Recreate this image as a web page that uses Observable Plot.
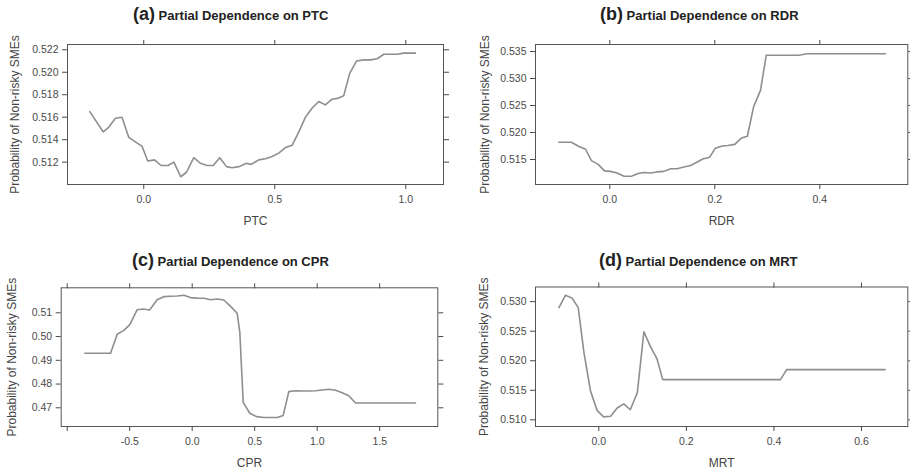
<!DOCTYPE html>
<html>
<head>
<meta charset="utf-8">
<script src="https://cdn.jsdelivr.net/npm/d3@7"></script>
<script src="https://cdn.jsdelivr.net/npm/@observablehq/plot@0.6"></script>
<style>
  html, body { margin: 0; padding: 0; background: #fff; }
  #wrap { position: relative; width: 910px; height: 470px; overflow: hidden; background: #fff; font-family: "Liberation Sans", Arial, sans-serif; }
  .panel { position: absolute; }
  .title { position: absolute; white-space: nowrap; font-weight: bold; font-size: 13px; line-height: 18px; color: #222; }
  .title .tag { font-size: 18px; }
</style>
</head>
<body>
<div id="wrap"></div>
<script>
// ---- Data ----
const ptcX = [-0.206,-0.155,-0.134,-0.108,-0.083,-0.057,-0.032,-0.006,0.015,0.041,0.066,0.092,0.115,0.141,0.163,0.191,0.216,0.242,0.265,0.290,0.316,0.337,0.364,0.392,0.410,0.439,0.464,0.490,0.515,0.541,0.566,0.592,0.617,0.642,0.668,0.693,0.719,0.744,0.763,0.786,0.812,0.840,0.865,0.891,0.916,0.941,0.967,0.992,1.037];
const ptcY = [0.5165,0.5147,0.5151,0.5159,0.5160,0.5142,0.5138,0.5134,0.5121,0.5122,0.5117,0.5117,0.5120,0.5107,0.5111,0.5124,0.5119,0.5117,0.5117,0.5124,0.5116,0.5115,0.5116,0.5119,0.5118,0.5122,0.5123,0.5125,0.5128,0.5133,0.5135,0.5147,0.5160,0.5168,0.5174,0.5171,0.5176,0.5177,0.5179,0.5199,0.5210,0.5211,0.5211,0.5212,0.5216,0.5216,0.5216,0.5217,0.5217];

const rdrX = [-0.097,-0.073,-0.059,-0.046,-0.035,-0.022,-0.010,0.001,0.014,0.027,0.041,0.054,0.065,0.077,0.090,0.103,0.116,0.128,0.141,0.154,0.164,0.177,0.190,0.201,0.214,0.225,0.238,0.251,0.262,0.274,0.287,0.298,0.312,0.360,0.376,0.398,0.525];
const rdrY = [0.5182,0.5182,0.5174,0.5169,0.5148,0.5141,0.5129,0.5128,0.5125,0.5119,0.5119,0.5124,0.5126,0.5125,0.5127,0.5128,0.5133,0.5133,0.5136,0.5139,0.5144,0.5151,0.5154,0.5171,0.5175,0.5176,0.5178,0.5190,0.5193,0.5248,0.5278,0.5343,0.5343,0.5343,0.5346,0.5346,0.5346];

const cprX = [-0.859,-0.653,-0.600,-0.547,-0.499,-0.440,-0.392,-0.341,-0.280,-0.227,-0.173,-0.120,-0.067,-0.013,0.040,0.093,0.147,0.200,0.253,0.307,0.360,0.381,0.408,0.461,0.515,0.573,0.627,0.680,0.728,0.773,0.827,0.880,0.933,0.987,1.040,1.093,1.147,1.200,1.253,1.307,1.400,1.787];
const cprY = [0.4930,0.4930,0.5010,0.5026,0.5050,0.5113,0.5116,0.5112,0.5155,0.5168,0.5170,0.5171,0.5174,0.5164,0.5162,0.5161,0.5155,0.5158,0.5154,0.5127,0.5098,0.5018,0.4723,0.4677,0.4663,0.4659,0.4659,0.4659,0.4668,0.4768,0.4772,0.4771,0.4771,0.4772,0.4775,0.4778,0.4774,0.4763,0.4751,0.4720,0.4720,0.4720];

const mrtX = [-0.091,-0.076,-0.061,-0.047,-0.034,-0.019,-0.004,0.011,0.027,0.042,0.057,0.072,0.088,0.103,0.118,0.133,0.146,0.160,0.415,0.429,0.472,0.654];
const mrtY = [0.5290,0.5311,0.5306,0.5290,0.5214,0.5149,0.5116,0.5105,0.5106,0.5120,0.5127,0.5117,0.5146,0.5249,0.5224,0.5203,0.5168,0.5168,0.5168,0.5185,0.5185,0.5185];

// tick values
const ptcXTicks = [0, 0.5, 1.0];
const ptcYTicks = [0.512, 0.514, 0.516, 0.518, 0.520, 0.522];
const rdrXTicks = [0, 0.2, 0.4];
const rdrYTicks = [0.515, 0.520, 0.525, 0.530, 0.535];
const cprXTicks = [-1.0, -0.5, 0, 0.5, 1.0, 1.5];
const cprYTicks = [0.47, 0.48, 0.49, 0.50, 0.51];
const mrtXTicks = [0, 0.2, 0.4, 0.6];
const mrtYTicks = [0.510, 0.515, 0.520, 0.525, 0.530];

const tags = ["(a)", "(b)", "(c)", "(d)"];
const titles = ["Partial Dependence on PTC", "Partial Dependence on RDR", "Partial Dependence on CPR", "Partial Dependence on MRT"];
const xLabels = ["PTC", "RDR", "CPR", "MRT"];
const yLabel = "Probability of Non-risky SMEs";

// ---- Layout ----
const wrap = document.getElementById("wrap");
const axisColor = "#4a4a4a";
const lineColor = "#8e8e8e";

function panel(cfg) {
  const data = cfg.xs.map((x, i) => ({x, y: cfg.ys[i]}));
  const noLabel = () => "";
  const chart = Plot.plot({
    width: cfg.w, height: cfg.h,
    marginLeft: cfg.ml, marginTop: cfg.mt, marginRight: cfg.mr, marginBottom: cfg.mb,
    style: {fontFamily: "'Liberation Sans', Arial, sans-serif", fontSize: "10.5px", color: axisColor, background: "transparent", overflow: "visible"},
    x: {domain: cfg.xDomain},
    y: {domain: cfg.yDomain},
    marks: [
      Plot.frame({stroke: "#555", strokeWidth: 1}),
      Plot.axisX(cfg.xTicks, {anchor: "bottom", tickSize: 5, tickPadding: 6, tickFormat: cfg.xFmt, label: null, color: axisColor}),
      Plot.axisX(cfg.xTicks, {anchor: "top", tickSize: 5, tickFormat: noLabel, label: null, color: axisColor}),
      Plot.axisY(cfg.yTicks, {anchor: "left", tickSize: 5, tickPadding: 4, tickFormat: cfg.yFmt, label: null, color: axisColor}),
      Plot.axisY(cfg.yTicks, {anchor: "right", tickSize: 5, tickFormat: noLabel, label: null, color: axisColor}),
      Plot.line(data, {x: "x", y: "y", stroke: lineColor, strokeWidth: 1.6}),
      Plot.text([cfg.xLabel], {frameAnchor: "bottom", lineAnchor: "bottom", dy: cfg.xLabDy, fontSize: 12, fill: "#444"}),
      Plot.text([yLabel], {frameAnchor: "left", rotate: -90, lineAnchor: "top", textAnchor: "middle", dx: cfg.yLabDx, fontSize: 12, fill: "#444"})
    ]
  });
  const div = document.createElement("div");
  div.className = "panel";
  div.style.left = cfg.left + "px";
  div.style.top = cfg.top + "px";
  div.appendChild(chart);
  wrap.appendChild(div);

  const t = document.createElement("div");
  t.className = "title";
  t.style.left = cfg.tLeft + "px";
  t.style.top = cfg.tTop + "px";
  t.innerHTML = `<span class="tag">${cfg.tag}</span> ${cfg.title}`;
  wrap.appendChild(t);
}

const f3 = d3.format(".3f"), f2 = d3.format(".2f"), f1 = d3.format(".1f");
const fcx = v => (Math.abs(v + 1) < 1e-9 ? "" : (v < 0 ? "-" : "") + f1(Math.abs(v)));

panel({left: 0, top: 0, w: 455, h: 235, ml: 67, mt: 44, mr: 12, mb: 51,
  xs: ptcX, ys: ptcY, xDomain: [-0.291, 1.144], yDomain: [0.51001, 0.52247],
  xTicks: ptcXTicks, yTicks: ptcYTicks, xFmt: f1, yFmt: f3,
  xLabel: xLabels[0], xLabDy: 40, yLabDx: -57,
  tag: tags[0], title: titles[0], tLeft: 133, tTop: 5});

panel({left: 455, top: 0, w: 455, h: 235, ml: 80, mt: 44, mr: 2.7, mb: 51,
  xs: rdrX, ys: rdrY, xDomain: [-0.1415, 0.5676], yDomain: [0.51037, 0.5363],
  xTicks: rdrXTicks, yTicks: rdrYTicks, xFmt: f1, yFmt: f3,
  xLabel: xLabels[1], xLabDy: 40, yLabDx: -55,
  tag: tags[1], title: titles[1], tLeft: 600, tTop: 5});

panel({left: 0, top: 235, w: 455, h: 235, ml: 60.7, mt: 52.3, mr: 17.7, mb: 44,
  xs: cprX, ys: cprY, xDomain: [-1.048, 1.965], yDomain: [0.46213, 0.52053],
  xTicks: cprXTicks, yTicks: cprYTicks, xFmt: fcx, yFmt: f2,
  xLabel: xLabels[2], xLabDy: 40.5, yLabDx: -53.4,
  tag: tags[2], title: titles[2], tLeft: 132, tTop: 251});

panel({left: 455, top: 235, w: 455, h: 235, ml: 80, mt: 51.5, mr: 2.7, mb: 44,
  xs: mrtX, ys: mrtY, xDomain: [-0.1446, 0.7058], yDomain: [0.50887, 0.53248],
  xTicks: mrtXTicks, yTicks: mrtYTicks, xFmt: f1, yFmt: f3,
  xLabel: xLabels[3], xLabDy: 40.5, yLabDx: -56,
  tag: tags[3], title: titles[3], tLeft: 599, tTop: 251});
</script>
</body>
</html>
